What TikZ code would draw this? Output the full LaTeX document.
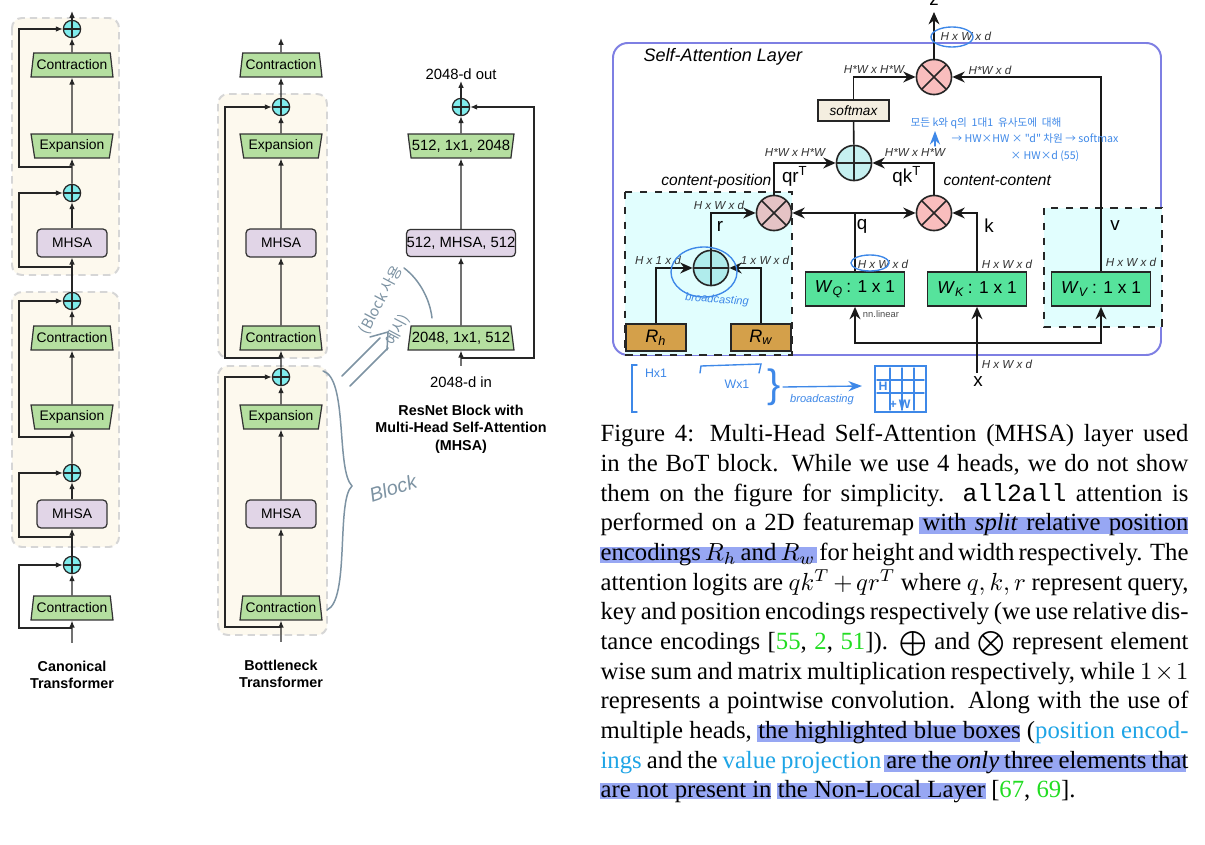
\documentclass[tikz,border=0pt]{standalone}
\usepackage{amsmath,amssymb}
\usepackage{xcolor}
\usepackage{fontspec}
\setmainfont{Liberation Serif}
\setmonofont{Liberation Mono}
\newfontfamily\arialfont{Liberation Sans}
\newfontfamily\krfont{Noto Sans CJK KR}
\usepackage{tikz}
\usetikzlibrary{
  arrows.meta,
  positioning,
  calc,
  shapes.geometric
}

\definecolor{blockbg}{HTML}{FDF9EE}
\definecolor{blockline}{HTML}{D6D6D6}
\definecolor{addcyan}{HTML}{80ECEC}
\definecolor{ffngreen}{HTML}{B5DFA0}
\definecolor{mhsapurple}{HTML}{E1D5E7}
\definecolor{frameblue}{HTML}{7E7FE3}
\definecolor{mulpink}{HTML}{F9BDBD}
\definecolor{mulpinkdim}{HTML}{E5C3C5}
\definecolor{sumteal}{HTML}{C6F0F0}
\definecolor{sumtealdark}{HTML}{B0ECEC}
\definecolor{wgreen}{HTML}{56E39C}
\definecolor{rbrown}{HTML}{D4A04A}
\definecolor{posbg}{HTML}{E1FEFE}
\definecolor{smaxbg}{HTML}{F4EEE0}
\definecolor{handblue}{HTML}{3E88E8}
\definecolor{pencilgray}{HTML}{7D93A3}
\definecolor{citegreen}{HTML}{22DD22}
\definecolor{linkcyan}{HTML}{1FA5E6}
\definecolor{hlblue}{HTML}{97A7F3}

\begin{document}
\begin{tikzpicture}[x=0.4045pt, y=-0.4045pt, >=Stealth, line width=0.5pt,
  addnode/.style={circle, draw=black!85, fill=addcyan, minimum size=7pt, inner sep=0pt,
    path picture={\draw[line width=0.55pt] (path picture bounding box.north) -- (path picture bounding box.south)
      (path picture bounding box.west) -- (path picture bounding box.east);}},
  contrbox/.style={trapezium, trapezium stretches=true, trapezium angle=76, draw=black!80,
    fill=ffngreen, minimum width=33.2pt, minimum height=9.7pt, inner xsep=0.3pt, inner ysep=0pt,
    font=\arialfont\fontsize{5.6}{6}\selectfont},
  expbox/.style={contrbox, shape border rotate=180},
  mhsabox/.style={rectangle, rounded corners=1.6pt, draw=black!80, fill=mhsapurple,
    minimum width=28.3pt, minimum height=11.3pt, inner sep=0pt, font=\arialfont\fontsize{5.6}{6}\selectfont},
  arr/.style={-{Latex[length=2.8pt,width=2.3pt]}, black!85},
  blockarea/.style={draw=blockline, dash pattern=on 3pt off 2pt, fill=blockbg, rounded corners=4pt, line width=0.8pt},
  colname/.style={font=\arialfont\bfseries\fontsize{5.8}{6.9}\selectfont, align=center, inner sep=0pt},
  io/.style={font=\arialfont\fontsize{6}{7}\selectfont, inner sep=0pt},
  sumnode/.style={circle, draw=black!85, line width=0.65pt, fill=sumteal, minimum size=14.2pt, inner sep=0pt,
    path picture={\draw[line width=0.65pt] (path picture bounding box.north) -- (path picture bounding box.south)
      (path picture bounding box.west) -- (path picture bounding box.east);}},
  mulnode/.style={circle, draw=black!85, line width=0.65pt, fill=mulpink, minimum size=14.2pt, inner sep=0pt,
    path picture={\draw[line width=0.65pt] (path picture bounding box.north west) -- (path picture bounding box.south east)
      (path picture bounding box.north east) -- (path picture bounding box.south west);}},
  wbox/.style={rectangle, draw=black!85, line width=0.65pt, fill=wgreen, minimum width=40pt, minimum height=13.8pt,
    inner sep=0pt, font=\arialfont\fontsize{7}{8}\selectfont},
  rbox/.style={rectangle, draw=black!85, line width=0.65pt, fill=rbrown, minimum width=24.3pt, minimum height=10.9pt,
    inner sep=0pt, font=\arialfont\itshape\fontsize{7.3}{8}\selectfont},
  sarr/.style={-{Stealth[length=5pt,width=4.4pt]}, line width=0.65pt, black!90},
  sline/.style={line width=0.65pt, black!90},
  dimlabel/.style={font=\arialfont\itshape\fontsize{4.7}{5}\selectfont, inner sep=0pt, text=black!80},
  vecname/.style={font=\arialfont\fontsize{7.6}{8}\selectfont, inner sep=0pt},
  pathname/.style={font=\arialfont\itshape\fontsize{6.3}{7}\selectfont, inner sep=0pt},
  capline/.style={anchor=base west, inner sep=0pt, font=\fontsize{10}{12}\selectfont},
  handnote/.style={text=handblue, inner sep=0pt, font=\arialfont\itshape\fontsize{4.5}{5}\selectfont},
  handline/.style={draw=handblue, line width=0.55pt, line cap=round},
  pencilnote/.style={text=pencilgray, inner sep=0pt, font=\arialfont\itshape\fontsize{8}{9}\selectfont},
  pencilline/.style={draw=pencilgray, line width=0.6pt, line cap=round}
]
\fill[white] (0,0) rectangle (1205,845);
\useasboundingbox (0,0) rectangle (1205,845);

% canonical transformer
\draw[blockarea] (12,18) rectangle (119,275);
\draw[blockarea] (12,292) rectangle (119,547);
\node[addnode] (cadd1) at (72,29) {};
\node[contrbox] (ccon1) at (72,65) {Contraction};
\node[expbox] (cexp1) at (72,146) {Expansion};
\node[addnode] (cadd2) at (72,193) {};
\node[mhsabox] (cmhsa1) at (72,243) {MHSA};
\node[addnode] (cadd3) at (72,301) {};
\node[contrbox] (ccon2) at (72,338) {Contraction};
\node[expbox] (cexp2) at (72,417) {Expansion};
\node[addnode] (cadd4) at (72,473) {};
\node[mhsabox] (cmhsa2) at (72,514) {MHSA};
\node[addnode] (cadd5) at (72,565) {};
\node[contrbox] (ccon3) at (72,608) {Contraction};
\coordinate (cin) at (72,643);
\coordinate (cout) at (72,11);
\draw[arr] (cin) -- (ccon3);
\draw[arr] (ccon3) -- (cadd5);
\draw[arr] (cadd5) -- (cmhsa2);
\draw[arr] (cmhsa2) -- (cadd4);
\draw[arr] (cadd4) -- (cexp2);
\draw[arr] (cexp2) -- (ccon2);
\draw[arr] (ccon2) -- (cadd3);
\draw[arr] (cadd3) -- (cmhsa1);
\draw[arr] (cmhsa1) -- (cadd2);
\draw[arr] (cadd2) -- (cexp1);
\draw[arr] (cexp1) -- (ccon1);
\draw[arr] (ccon1) -- (cadd1);
\draw[arr] (cadd1) -- (cout);
\coordinate (cbr5) at (72,628);
\coordinate (cbr4) at (72,537);
\coordinate (cbr3) at (72,437);
\coordinate (cbr2) at (72,267);
\coordinate (cbr1) at (72,167);
\draw[arr] (cbr5) -- ++(-53,0) |- (cadd5);
\draw[arr] (cbr4) -- ++(-53,0) |- (cadd4);
\draw[arr] (cbr3) -- ++(-53,0) |- (cadd3);
\draw[arr] (cbr2) -- ++(-53,0) |- (cadd2);
\draw[arr] (cbr1) -- ++(-53,0) |- (cadd1);
\node[colname] (ctitle) at (72,675) {Canonical\\Transformer};

% bottleneck transformer
\draw[blockarea] (218,94) rectangle (327,358);
\draw[blockarea] (218,366) rectangle (327,635);
\node[contrbox] (bcon0) at (281,65) {Contraction};
\node[addnode] (badd1) at (281,107) {};
\node[expbox] (bexp1) at (281,146) {Expansion};
\node[mhsabox] (bmhsa1) at (281,243) {MHSA};
\node[contrbox] (bcon1) at (281,338) {Contraction};
\node[addnode] (badd2) at (281,377) {};
\node[expbox] (bexp2) at (281,417) {Expansion};
\node[mhsabox] (bmhsa2) at (281,514) {MHSA};
\node[contrbox] (bcon2) at (281,608) {Contraction};
\coordinate (bin) at (281,642);
\coordinate (bout) at (281,38);
\draw[arr] (bin) -- (bcon2);
\draw[arr] (bcon2) -- (bmhsa2);
\draw[arr] (bmhsa2) -- (bexp2);
\draw[arr] (bexp2) -- (badd2);
\draw[arr] (badd2) -- (bcon1);
\draw[arr] (bcon1) -- (bmhsa1);
\draw[arr] (bmhsa1) -- (bexp1);
\draw[arr] (bexp1) -- (badd1);
\draw[arr] (badd1) -- (bcon0);
\draw[arr] (bcon0) -- (bout);
\coordinate (bbr2) at (281,627);
\coordinate (bbr1) at (281,358);
\draw[arr] (bbr2) -- ++(-56,0) |- (badd2);
\draw[arr] (bbr1) -- ++(-56,0) |- (badd1);
\node[colname] (btitle) at (281,674) {Bottleneck\\Transformer};

% pencil notes
\draw[pencilline] (323,371) .. controls (348,378) and (336,470) .. (352,486) .. controls (336,500) and (350,600) .. (327,610);
\node[pencilnote, rotate=18] (blocknote) at (393,488) {Block};
\draw[pencilline] (342,376) -- (380,338) (350,386) -- (388,348);
\draw[pencilline] (370,337) -- (388,332) -- (387,350);
\node[pencilnote, font=\krfont\fontsize{6}{7}\selectfont, rotate=62] (usenote) at (381,300) {(Block 사용};
\node[pencilnote, font=\krfont\fontsize{6}{7}\selectfont, rotate=62] (usenote2) at (398,330) {예시)};
\draw[pencilline] (404,268) .. controls (420,280) and (430,300) .. (432,318);

% resnet block with mhsa
\node[addnode] (radd) at (461,107) {};
\node[expbox, minimum width=43pt, font=\arialfont\fontsize{6}{7}\selectfont] (rexp) at (461,146) {512, 1x1, 2048};
\node[mhsabox, minimum width=43.7pt, minimum height=11pt, font=\arialfont\fontsize{6}{7}\selectfont] (rmhsa) at (461,243) {512, MHSA, 512};
\node[contrbox, minimum width=43pt, font=\arialfont\fontsize{6}{7}\selectfont] (rcon) at (461,338) {2048, 1x1, 512};
\node[io] (rinlab) at (461,382) {2048-d in};
\node[io] (routlab) at (461,74) {2048-d out};
\coordinate (rin) at (461,366);
\coordinate (rout) at (461,81);
\coordinate (rbr) at (461,358);
\draw[arr] (rin) -- (rcon);
\draw[arr] (rcon) -- (rmhsa);
\draw[arr] (rmhsa) -- (rexp);
\draw[arr] (rexp) -- (radd);
\draw[arr] (radd) -- (rout);
\draw[arr] (rbr) -- ++(73,0) |- (radd);
\node[colname, font=\arialfont\bfseries\fontsize{5.8}{7.1}\selectfont] (rtitle) at (461,429) {ResNet Block with\\Multi-Head Self-Attention\\(MHSA)};

% self-attention layer
\draw[frameblue, line width=0.8pt, rounded corners=6pt] (613,43) rectangle (1161,355);
\draw[black!85, dashed, line width=0.55pt, fill=posbg] (625,192) rectangle (792,355);
\draw[black!85, dashed, line width=0.55pt, fill=posbg] (1044,208) rectangle (1162,327);
\node[anchor=west, inner sep=0pt, font=\arialfont\itshape\fontsize{7.3}{8}\selectfont] (satitle) at (643,57) {Self-Attention Layer};

\node[mulnode] (zmul) at (934,77) {};
\node[rectangle, draw=black!85, line width=0.65pt, fill=smaxbg, minimum width=28.7pt, minimum height=8.5pt,
  inner sep=0pt, font=\arialfont\itshape\fontsize{5.5}{6}\selectfont] (smax) at (853.5,110.5) {softmax};
\node[sumnode] (logit) at (854,163) {};
\node[mulnode, fill=mulpinkdim] (cpmul) at (774,213) {};
\node[mulnode] (ccmul) at (934,213) {};
\node[sumnode, fill=sumtealdark] (posadd) at (711,268) {};
\node[rbox] (rh) at (656,337.5) {R\textsubscript{h}};
\node[rbox] (rw) at (761,337.5) {R\textsubscript{w}};
\node[wbox] (wq) at (855,289) {\textit{W}\textsubscript{\textit{Q}}\,: 1 x 1};
\node[wbox] (wk) at (977,289) {\textit{W}\textsubscript{\textit{K}}\,: 1 x 1};
\node[wbox] (wv) at (1101,289) {\textit{W}\textsubscript{\textit{V}}\,: 1 x 1};
\node[vecname] (xlab) at (978,382) {x};
\node[vecname, anchor=base] (zlab) at (934,6) {z};
\coordinate (ztip) at (934,12);
\coordinate (xin) at (977,373);
\coordinate (xbr) at (977,343);
\coordinate (qj) at (855,213);

\draw[sarr] (xin) -- (wk);
\draw[sarr] (xbr) -| (wq);
\draw[sarr] (xbr) -| (wv);
\draw[sline] (wq) -- (qj);
\draw[sarr] (qj) -- (cpmul);
\draw[sarr] (qj) -- (ccmul);
\draw[sarr] (wk.north) |- (ccmul.east);
\draw[sarr] (wv.north) |- (zmul.east);
\draw[sarr] (posadd.north) |- (cpmul.west);
\draw[sarr] (rh.north) |- (posadd.west);
\draw[sarr] (rw.north) |- (posadd.east);
\draw[sarr] (cpmul.north) |- (logit.west);
\draw[sarr] (ccmul.north) |- (logit.east);
\draw[sline] (logit) -- (smax);
\draw[sarr] (smax.north) |- (zmul.west);
\draw[sarr] (zmul) -- (ztip);

\node[dimlabel, anchor=west] (zdim) at (940,36) {H x W x d};
\node[dimlabel] (smaxdim) at (874,70) {H*W x H*W};
\node[dimlabel] (vdim) at (990,70) {H*W x d};
\node[dimlabel] (qrdim) at (795,153) {H*W x H*W};
\node[dimlabel] (qkdim) at (915,153) {H*W x H*W};
\node[dimlabel] (rdim) at (719,205) {H x W x d};
\node[dimlabel] (rhdim) at (658,260) {H x 1 x d};
\node[dimlabel] (rwdim) at (765,260) {1 x W x d};
\node[dimlabel] (wqdim) at (883,264) {H x W x d};
\node[dimlabel] (wkdim) at (1007,264) {H x W x d};
\node[dimlabel] (wvdim) at (1131,262) {H x W x d};
\node[dimlabel] (xdim) at (1007,364) {H x W x d};
\node[vecname] (qrname) at (795,176) {qr\textsuperscript{T}};
\node[vecname] (qkname) at (907,176) {qk\textsuperscript{T}};
\node[vecname] (rname) at (720,226) {r};
\node[vecname] (qname) at (862,226) {q};
\node[vecname] (kname) at (989,226) {k};
\node[vecname] (vname) at (1115,226) {v};
\node[pathname, anchor=east] (cpname) at (772,181) {content-position};
\node[pathname, anchor=west] (ccname) at (943,181) {content-content};

% hand notes
\draw[handline] (952,37) ellipse [x radius=21, y radius=10];
\draw[handline] (870,263) ellipse [x radius=19, y radius=8];
\draw[handline] (704,272) ellipse [x radius=33, y radius=25];
\node[handnote, rotate=-4] (bcnote) at (717,300) {broadcasting};
\node[inner sep=0pt, text=black!70, font=\arialfont\fontsize{3.8}{4}\selectfont] (linnote) at (881,314) {nn.linear};
\draw[handline, ->] (935,146) -- (935,131);
\node[handnote, font=\krfont\fontsize{4.3}{5}\selectfont] (krnote1) at (986,123) {모든 k와 q의 \ 1대1 \ 유사도에 \ 대해};
\node[handnote, font=\krfont\fontsize{4.3}{5}\selectfont] (krnote2) at (1035,139) {→ HW×HW × "d" 차원 → softmax};
\node[handnote, font=\krfont\fontsize{4.3}{5}\selectfont] (krnote3) at (1045,156) {× HW×d (55)};
\draw[handline] (637,365) -- (632,365) -- (632,412) -- (637,412);
\node[handnote, font=\arialfont\fontsize{5}{6}\selectfont] (hnote) at (656,373) {Hx1};
\draw[handline] (700,373) -- (701,366) -- (761,364) -- (759,373);
\node[handnote, font=\arialfont\fontsize{5}{6}\selectfont] (wnote) at (737,384) {Wx1};
\node[handnote, font=\arialfont\fontsize{16}{16}\selectfont] (bracenote) at (774,387) {\}};
\draw[handline, ->] (783,387) -- (862,386);
\node[handnote] (bcnote2) at (822,400) {broadcasting};
\draw[handline] (875,366) rectangle (926,412);
\draw[handline] (890,368) -- (890,410) (902,368) -- (902,410) (914,368) -- (914,410)
  (877,380) -- (924,380) (877,393) -- (924,393);
\node[handnote, font=\arialfont\bfseries\fontsize{5}{6}\selectfont] (gridh) at (883,386) {H};
\node[handnote, font=\arialfont\bfseries\fontsize{5}{6}\selectfont] (gridw) at (900,404) {+\,W};

% caption
\fill[hlblue] (919,517) rectangle (1188,534);
\fill[hlblue] (600,547) rectangle (817,563);
\fill[hlblue] (757,725) rectangle (1020,742);
\fill[hlblue] (884,755) rectangle (1186,772);
\fill[hlblue] (600,783) rectangle (771,799);
\fill[hlblue] (777,783) rectangle (986,799);
\node[capline] (cap1) at (600,442) {\makebox[237.8pt][s]{Figure 4: Multi-Head Self-Attention (MHSA) layer used}};
\node[capline] (cap2) at (600,471.7) {\makebox[237.8pt][s]{in the BoT block. While we use 4 heads, we do not show}};
\node[capline] (cap3) at (600,501.3) {\makebox[237.8pt][s]{them on the figure for simplicity. \texttt{all2all} attention is}};
\node[capline] (cap4) at (600,531) {\makebox[237.8pt][s]{performed on a 2D featuremap with \textit{split} relative position}};
\node[capline] (cap5) at (600,560.7) {\makebox[237.8pt][s]{encodings $R_h$ and $R_w$ for height and width respectively. The}};
\node[capline] (cap6) at (600,590.4) {\makebox[237.8pt][s]{attention logits are $qk^T+qr^T$ where $q,k,r$ represent query,}};
\node[capline] (cap7) at (600,620) {\makebox[237.8pt][s]{key and position encodings respectively (we use relative dis-}};
\node[capline] (cap8) at (600,649.7) {\makebox[237.8pt][s]{tance encodings [\textcolor{citegreen}{55}, \textcolor{citegreen}{2}, \textcolor{citegreen}{51}]). \smash{$\bigoplus$} and \smash{$\bigotimes$} represent element}};
\node[capline] (cap9) at (600,679.4) {\makebox[237.8pt][s]{wise sum and matrix multiplication respectively, while $1\times1$}};
\node[capline] (cap10) at (600,709) {\makebox[237.8pt][s]{represents a pointwise convolution. Along with the use of}};
\node[capline] (cap11) at (600,738.7) {\makebox[237.8pt][s]{multiple heads, the highlighted blue boxes (\textcolor{linkcyan}{position encod-}}};
\node[capline] (cap12) at (600,768.4) {\makebox[237.8pt][s]{\textcolor{linkcyan}{ings} and the \textcolor{linkcyan}{value projection} are the \textit{only} three elements that}};
\node[capline] (cap13) at (600,798) {are not present in the Non-Local Layer [\textcolor{citegreen}{67}, \textcolor{citegreen}{69}].};
\end{tikzpicture}
\end{document}
